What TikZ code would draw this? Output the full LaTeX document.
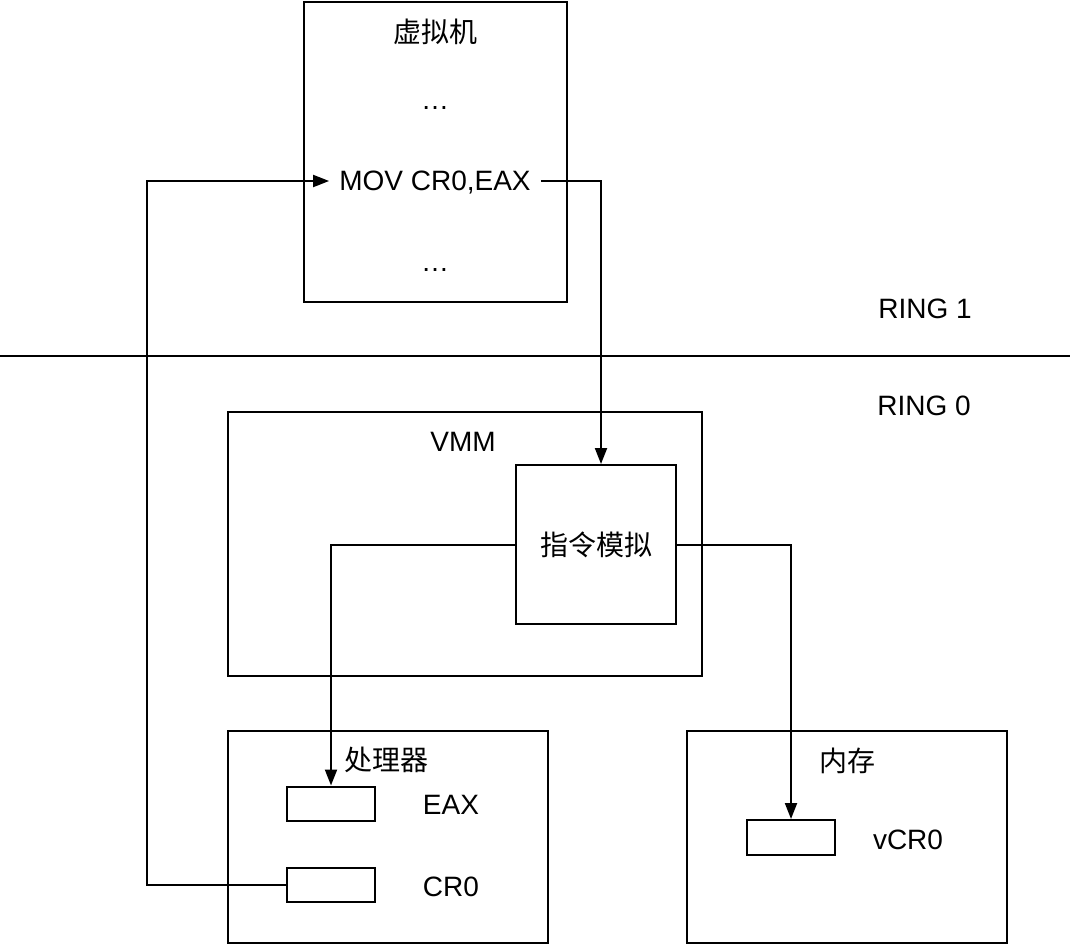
\documentclass[tikz,border=0pt]{standalone}
\usepackage{fontspec}
\setmainfont{Liberation Sans}
\newfontfamily\cjk{Noto Sans CJK SC}
\usetikzlibrary{arrows.meta,positioning}
\begin{document}
\begin{tikzpicture}[x=1pt,y=-1pt,
  every node/.style={font=\fontsize{28}{33}\selectfont},
  box/.style={draw,line width=2pt,rectangle,inner sep=0pt},
  lbl/.style={inner sep=0pt},
  conn/.style={line width=2pt},
  arr/.style={line width=2pt,-{Triangle[length=16pt,width=12pt]}}]
\useasboundingbox (0,0) rectangle (1070,945);
% boxes
\node[box,minimum width=263pt,minimum height=300pt] (vm) at (435.5,152) {};
\node[box,minimum width=474pt,minimum height=264pt] (vmm) at (465,544) {};
\node[box,minimum width=160pt,minimum height=159pt] (sim) at (596,544.5) {};
\node[box,minimum width=320pt,minimum height=212pt] (cpu) at (388,837) {};
\node[box,minimum width=320pt,minimum height=212pt] (mem) at (847,837) {};
\node[box,minimum width=88pt,minimum height=34pt] (eax) at (331,803.5) {};
\node[box,minimum width=88pt,minimum height=34pt] (cr0) at (331,885) {};
\node[box,minimum width=88pt,minimum height=35pt] (vcr) at (791,837.5) {};
% texts
\node[lbl] (vmt) at (435,32) {\cjk 虚拟机};
\node[lbl,anchor=base] (d1) at (435,109) {…};
\node[inner ysep=0pt,inner xsep=10pt] (mov) at (435,183) {MOV CR0,EAX};
\node[lbl,anchor=base] (d2) at (435,271) {…};
\node[lbl] (r1) at (925,309) {RING 1};
\node[lbl] (r0) at (924,406) {RING 0};
\node[lbl] (vmmt) at (463,442) {VMM};
\node[lbl] (simt) at (sim.center) {\cjk 指令模拟};
\node[lbl] (cput) at (386,760) {\cjk 处理器};
\node[lbl] (memt) at (847,761) {\cjk 内存};
\node[lbl] (eaxt) at (451,805) {EAX};
\node[lbl] (cr0t) at (451,887) {CR0};
\node[lbl] (vcrt) at (908,840) {vCR0};
% ring separator
\coordinate (sepL) at (0,356);
\coordinate (sepR) at (1070,356);
\draw[line width=1.5pt] (sepL) -- (sepR);
% connectors
\coordinate (lft) at (147,181);
\coordinate (rgt) at (601,181);
\draw[arr] (mov.east |- rgt) -- (rgt) -- (rgt |- sim.north);
\draw[arr] (sim.west) -| (eax.north);
\draw[arr] (sim.east) -| (vcr.north);
\draw[arr] (cr0.west) -- (cr0.west -| lft) -- (lft) -- (mov.west |- lft);
\end{tikzpicture}
\end{document}
